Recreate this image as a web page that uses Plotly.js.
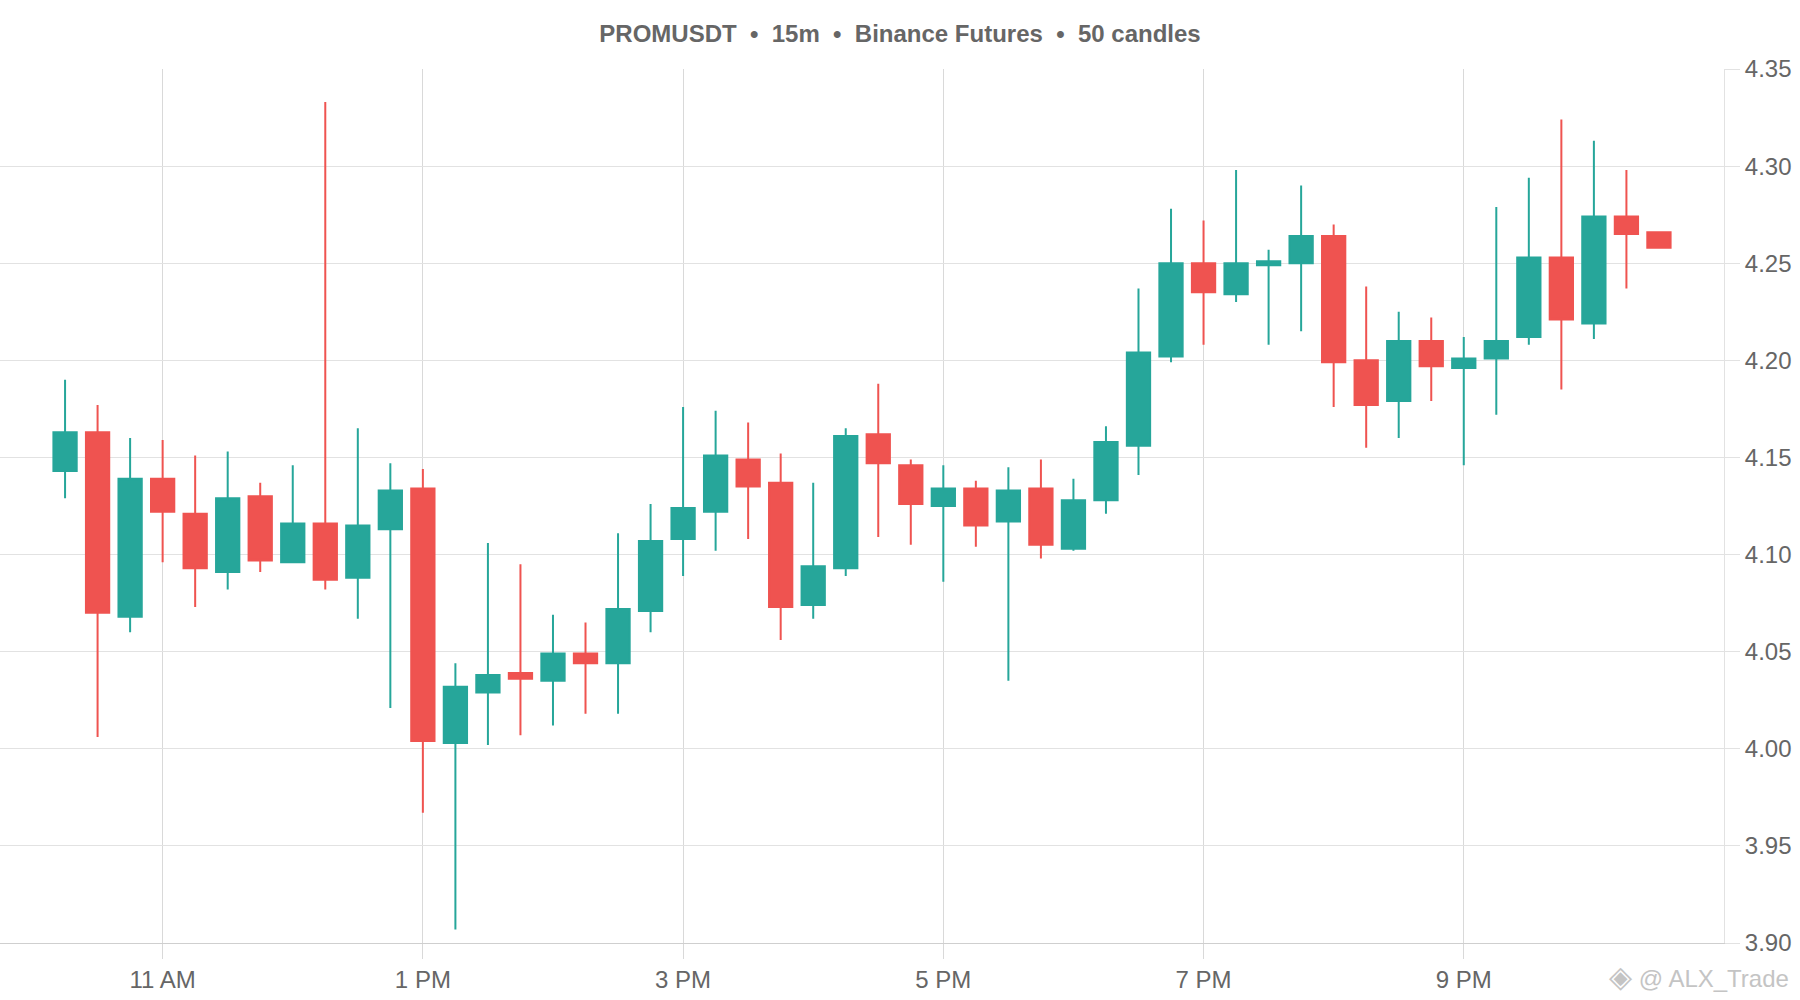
<!DOCTYPE html>
<html>
<head>
<meta charset="utf-8">
<script src="https://cdn.plot.ly/plotly-3.0.1.min.js"></script>
<style>
html,body{margin:0;padding:0;background:#fff;}
#chart{width:1800px;height:1000px;}
</style>
</head>
<body>
<div id="chart"></div>
<script>
const times = [
  "2024-01-01 10:15","2024-01-01 10:30","2024-01-01 10:45","2024-01-01 11:00","2024-01-01 11:15",
  "2024-01-01 11:30","2024-01-01 11:45","2024-01-01 12:00","2024-01-01 12:15","2024-01-01 12:30",
  "2024-01-01 12:45","2024-01-01 13:00","2024-01-01 13:15","2024-01-01 13:30","2024-01-01 13:45",
  "2024-01-01 14:00","2024-01-01 14:15","2024-01-01 14:30","2024-01-01 14:45","2024-01-01 15:00",
  "2024-01-01 15:15","2024-01-01 15:30","2024-01-01 15:45","2024-01-01 16:00","2024-01-01 16:15",
  "2024-01-01 16:30","2024-01-01 16:45","2024-01-01 17:00","2024-01-01 17:15","2024-01-01 17:30",
  "2024-01-01 17:45","2024-01-01 18:00","2024-01-01 18:15","2024-01-01 18:30","2024-01-01 18:45",
  "2024-01-01 19:00","2024-01-01 19:15","2024-01-01 19:30","2024-01-01 19:45","2024-01-01 20:00",
  "2024-01-01 20:15","2024-01-01 20:30","2024-01-01 20:45","2024-01-01 21:00","2024-01-01 21:15",
  "2024-01-01 21:30","2024-01-01 21:45","2024-01-01 22:00","2024-01-01 22:15","2024-01-01 22:30"
];
const openP = [
  4.143,4.163,4.068,4.139,4.121,4.091,4.130,4.096,4.116,4.088,
  4.113,4.134,4.003,4.029,4.039,4.035,4.049,4.044,4.071,4.108,
  4.122,4.149,4.137,4.074,4.093,4.162,4.146,4.125,4.134,4.117,
  4.134,4.103,4.128,4.156,4.202,4.250,4.234,4.249,4.250,4.264,
  4.200,4.179,4.210,4.196,4.201,4.212,4.253,4.219,4.274,4.266
];
const highP = [
  4.190,4.177,4.160,4.159,4.151,4.153,4.137,4.146,4.333,4.165,
  4.147,4.144,4.044,4.106,4.095,4.069,4.065,4.111,4.126,4.176,
  4.174,4.168,4.152,4.137,4.165,4.188,4.149,4.146,4.138,4.145,
  4.149,4.139,4.166,4.237,4.278,4.272,4.298,4.257,4.290,4.270,
  4.238,4.225,4.222,4.212,4.279,4.294,4.324,4.313,4.298,4.266
];
const lowP = [
  4.129,4.006,4.060,4.096,4.073,4.082,4.091,4.096,4.082,4.067,
  4.021,3.967,3.907,4.002,4.007,4.012,4.018,4.018,4.060,4.089,
  4.102,4.108,4.056,4.067,4.089,4.109,4.105,4.086,4.104,4.035,
  4.098,4.102,4.121,4.141,4.199,4.208,4.230,4.208,4.215,4.176,
  4.155,4.160,4.179,4.146,4.172,4.208,4.185,4.211,4.237,4.258
];
const closeP = [
  4.163,4.070,4.139,4.122,4.093,4.129,4.097,4.116,4.087,4.115,
  4.133,4.004,4.032,4.038,4.036,4.049,4.044,4.072,4.107,4.124,
  4.151,4.135,4.073,4.094,4.161,4.147,4.126,4.134,4.115,4.133,
  4.105,4.128,4.158,4.204,4.250,4.235,4.250,4.251,4.264,4.199,
  4.177,4.210,4.197,4.201,4.210,4.253,4.221,4.274,4.265,4.258
];
const xTickVals = ["2024-01-01 11:00","2024-01-01 13:00","2024-01-01 15:00","2024-01-01 17:00","2024-01-01 19:00","2024-01-01 21:00"];
const xTickText = ["11 AM","1 PM","3 PM","5 PM","7 PM","9 PM"];
const yTickVals = [3.90,3.95,4.00,4.05,4.10,4.15,4.20,4.25,4.30,4.35];

const UP = '#26a69a', DOWN = '#ef5350';
const HGRID = '#e2e2e2', VGRID = '#d9d9d9';

const trace = {
  type: 'candlestick',
  x: times, open: openP, high: highP, low: lowP, close: closeP,
  increasing: {line: {color: UP, width: 2}, fillcolor: UP},
  decreasing: {line: {color: DOWN, width: 2}, fillcolor: DOWN},
  whiskerwidth: 0,
  hoverinfo: 'none'
};

const layout = {
  width: 1800, height: 1000,
  paper_bgcolor: '#ffffff', plot_bgcolor: '#ffffff',
  margin: {l: 0, r: 76, t: 69, b: 57, pad: 0},
  showlegend: false,
  boxgap: 0,
  boxgroupgap: 0.284,
  font: {family: 'Liberation Sans, Arial, sans-serif', size: 24, color: '#666666'},
  title: {
    text: '<b>PROMUSDT  •  15m  •  Binance Futures  •  50 candles</b>',
    font: {family: 'Liberation Sans, Arial, sans-serif', size: 24, color: '#666666'},
    x: 0.5, xanchor: 'center', xref: 'container',
    y: 0.966, yanchor: 'middle', yref: 'container'
  },
  xaxis: {
    type: 'date',
    range: ['2024-01-01 09:45', '2024-01-01 23:00'],
    tickvals: xTickVals, ticktext: xTickText,
    showgrid: true, gridcolor: VGRID, gridwidth: 1,
    ticks: 'outside', ticklen: 15, tickcolor: VGRID, tickwidth: 1,
    showline: true, linecolor: '#cfcfcf', linewidth: 1,
    zeroline: false,
    rangeslider: {visible: false},
    tickfont: {size: 24, color: '#666666'},
    fixedrange: true
  },
  yaxis: {
    side: 'right',
    range: [3.90, 4.35],
    tickvals: yTickVals, tickformat: '.2f',
    showgrid: true, gridcolor: HGRID, gridwidth: 1,
    ticks: 'outside', ticklen: 15, tickcolor: HGRID, tickwidth: 1,
    showline: true, linecolor: HGRID, linewidth: 1,
    zeroline: false,
    tickfont: {size: 24, color: '#666666'},
    fixedrange: true
  },
  annotations: [{
    text: '<span style="font-size:30px">◈</span> @ ALX_Trade',
    xref: 'paper', yref: 'paper',
    x: 1.039, y: -0.038, xanchor: 'right', yanchor: 'middle',
    showarrow: false,
    font: {family: 'Liberation Sans, Arial, sans-serif', size: 24, color: '#c4c4c4'}
  }]
};

Plotly.newPlot('chart', [trace], layout, {displayModeBar: false, staticPlot: true});
</script>
</body>
</html>
